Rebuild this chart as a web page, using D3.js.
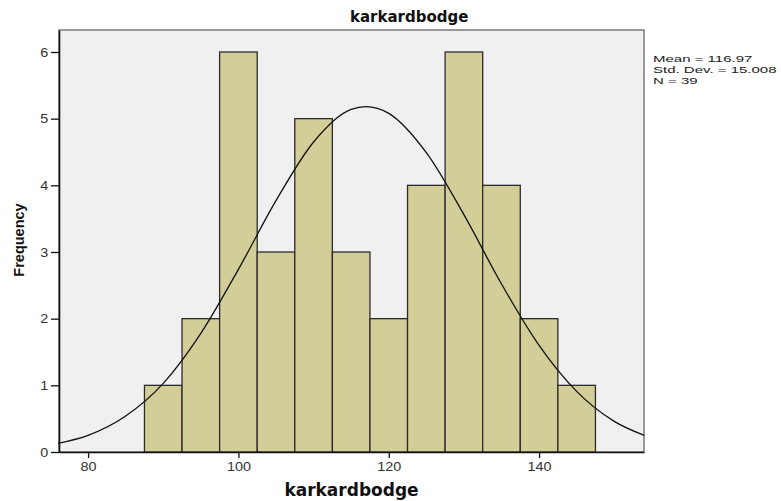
<!DOCTYPE html>
<html>
<head>
<meta charset="utf-8">
<script src="https://cdn.jsdelivr.net/npm/d3@7"></script>
<style>
  body { margin: 0; background: #fff; }
  svg { display: block; }
</style>
</head>
<body>
<div id="chart"></div>
<script>
// histogram bins (lower edge, upper edge) and counts
let binStarts = [87.5, 92.5, 97.5, 102.5, 107.5, 112.5, 117.5, 122.5, 127.5, 132.5, 137.5, 142.5];
let binWidth = 5;
let counts = [1, 2, 6, 3, 5, 3, 2, 4, 6, 4, 2, 1];

// fitted normal curve
let curveX = [76, 80, 85, 90, 95, 100, 105, 110, 115, 117, 120, 125, 130, 135, 140, 145, 150, 154];
let curveY = [0.13, 0.25, 0.54, 1.03, 1.78, 2.74, 3.77, 4.65, 5.14, 5.18, 5.08, 4.49, 3.56, 2.52, 1.60, 0.91, 0.46, 0.25];

let xTicks = [80, 100, 120, 140];
let yTicks = [0, 1, 2, 3, 4, 5, 6];
let statLines = ["Mean = 116.97", "Std. Dev. = 15.008", "N = 39"];

let svgWidth = 781;
let svgHeight = 501;

let margin = { top: 30, right: 137, bottom: 49, left: 59 };
let width = svgWidth - margin.left - margin.right;
let height = svgHeight - margin.top - margin.bottom;

let svg = d3.select("#chart")
  .append("svg")
  .attr("width", svgWidth)
  .attr("height", svgHeight);

let chartGroup = svg.append("g")
  .attr("transform", `translate(${margin.left}, ${margin.top})`);

let x = d3.scaleLinear().domain([76.13, 153.96]).range([0, width]);
let y = d3.scaleLinear().domain([0, 6.33]).range([height, 0]);

// plot background + frame
chartGroup.append("rect")
  .attr("width", width)
  .attr("height", height)
  .attr("fill", "#f0f0f0")
  .attr("stroke", "#7a7a7a")
  .attr("stroke-width", 1.5);

// bars
chartGroup.selectAll(".bar")
  .data(counts)
  .enter()
  .append("rect")
  .attr("class", "bar")
  .attr("x", (d, i) => x(binStarts[i]))
  .attr("y", d => y(d))
  .attr("width", (d, i) => x(binStarts[i] + binWidth) - x(binStarts[i]))
  .attr("height", d => y(0) - y(d))
  .attr("fill", "#d3ce97")
  .attr("stroke", "#2b2b2b")
  .attr("stroke-width", 1.3);

// normal curve
let line = d3.line()
  .x(d => x(d[0]))
  .y(d => y(d[1]))
  .curve(d3.curveMonotoneX);

chartGroup.append("path")
  .datum(curveX.map((v, i) => [v, curveY[i]]))
  .attr("d", line)
  .attr("fill", "none")
  .attr("stroke", "#111")
  .attr("stroke-width", 1.3);

// axes
let bottomAxis = d3.axisBottom(x).tickValues(xTicks).tickSize(6).tickSizeOuter(0);
let leftAxis = d3.axisLeft(y).tickValues(yTicks).tickFormat(d3.format("d")).tickSize(8).tickSizeOuter(0);

let xAxisG = chartGroup.append("g")
  .attr("transform", `translate(0, ${height})`)
  .call(bottomAxis);

let yAxisG = chartGroup.append("g")
  .call(leftAxis);

[xAxisG, yAxisG].forEach(g => {
  g.select(".domain").attr("stroke", "#111").attr("stroke-width", 1.6);
  g.selectAll(".tick line").attr("stroke", "#111").attr("stroke-width", 1.3);
  g.selectAll(".tick text")
    .attr("fill", "#333")
    .style("font-family", "'Liberation Sans', Arial, sans-serif")
    .style("font-size", "12px");
});

xAxisG.selectAll(".tick text")
  .attr("y", 10)
  .attr("transform", "scale(1.2,1)");

yAxisG.selectAll(".tick text")
  .attr("x", -9)
  .attr("dy", "0.34em")
  .attr("transform", "scale(1.2,1)");

// title
svg.append("text")
  .attr("x", 350)
  .attr("y", 22)
  .style("font-family", "'DejaVu Sans', sans-serif")
  .style("font-weight", "bold")
  .style("font-size", "15px")
  .attr("fill", "#111")
  .text("karkardbodge");

// x label
svg.append("text")
  .attr("x", margin.left + width / 2)
  .attr("y", 496)
  .attr("text-anchor", "middle")
  .style("font-family", "'DejaVu Sans', sans-serif")
  .style("font-weight", "bold")
  .style("font-size", "17px")
  .attr("fill", "#111")
  .text("karkardbodge");

// y label
svg.append("text")
  .attr("transform", "translate(24, 240) rotate(-90)")
  .attr("text-anchor", "middle")
  .style("font-family", "'Liberation Sans', Arial, sans-serif")
  .style("font-weight", "bold")
  .style("font-size", "14.5px")
  .attr("fill", "#111")
  .text("Frequency");

// stats text
let statG = svg.append("g")
  .attr("transform", "translate(653, 62) scale(1.58,1)");

statG.selectAll("text")
  .data(statLines)
  .enter()
  .append("text")
  .attr("x", 0)
  .attr("y", (d, i) => i * 11)
  .style("font-family", "'Liberation Sans', Arial, sans-serif")
  .style("font-size", "9.5px")
  .attr("fill", "#222")
  .text(d => d);
</script>
</body>
</html>
